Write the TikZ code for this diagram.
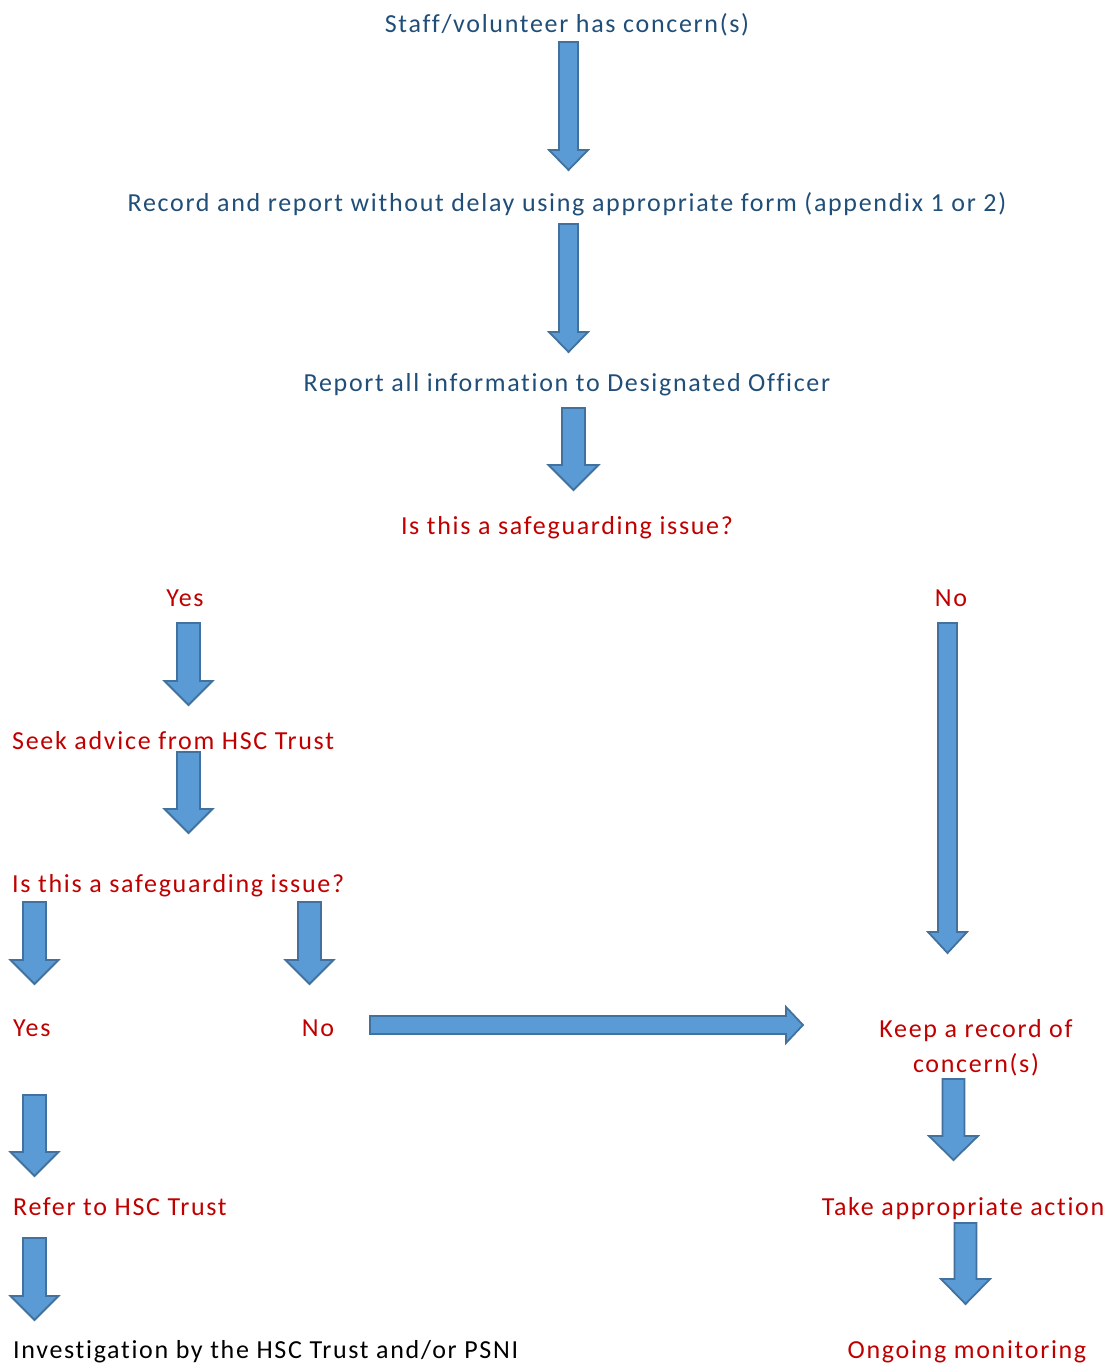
\documentclass[tikz,border=0pt]{standalone}
\usepackage{fontspec}
\setmainfont[LetterSpace=6.5, Ligatures=NoCommon]{Carlito}
\definecolor{txtblue}{HTML}{1F4E79}
\definecolor{txtred}{HTML}{C00000}
\definecolor{arrfill}{HTML}{5B9BD5}
\definecolor{arrline}{HTML}{41719C}
\tikzset{
  lbl/.style={inner sep=0pt, anchor=base, font=\fontsize{26}{30}\selectfont},
  bluelbl/.style={lbl, text=txtblue},
  redlbl/.style={lbl, text=txtred},
  blacklbl/.style={lbl, text=black},
  barrow/.style={fill=arrfill, draw=arrline, line width=1.8pt, line join=miter},
}
% down arrow: x, top, tip, half shaft, half head, head length
\newcommand\darrow[6]{%
  \draw[barrow] ({#1-#4},#2) -- ({#1+#4},#2) -- ({#1+#4},{#3-#6}) -- ({#1+#5},{#3-#6})
    -- (#1,#3) -- ({#1-#5},{#3-#6}) -- ({#1-#4},{#3-#6}) -- cycle;}
% right arrow: y, left, tip, half shaft, half head, head length
\newcommand\rarrow[6]{%
  \draw[barrow] (#2,{#1-#4}) -- (#2,{#1+#4}) -- ({#3-#6},{#1+#4}) -- ({#3-#6},{#1+#5})
    -- (#3,#1) -- ({#3-#6},{#1-#5}) -- ({#3-#6},{#1-#4}) -- cycle;}
\begin{document}
\begin{tikzpicture}[x=1pt,y=-1pt]
\useasboundingbox (0,0) rectangle (1112,1365);
% texts
\node[bluelbl] (t1) at (567,32) {Staff/volunteer has concern(s)};
\node[bluelbl] (t2) at (567,211) {Record and report without delay using appropriate form (appendix 1 or 2)};
\node[bluelbl] (t3) at (567,391) {Report all information to Designated Officer};
\node[redlbl] (q1) at (567,534) {Is this a safeguarding issue?};
\node[redlbl] (y1) at (185,606) {Yes};
\node[redlbl] (n1) at (951,606) {No};
\node[redlbl, anchor=base west] (s1) at (12,749) {Seek advice from HSC Trust};
\node[redlbl, anchor=base west] (q2) at (12,892) {Is this a safeguarding issue?};
\node[redlbl, anchor=base west] (y2) at (13,1036) {Yes};
\node[redlbl] (n2) at (318,1036) {No};
\node[redlbl, align=center, anchor=north] (k1) at (976,1019) {Keep a record of\\[5pt]concern(s)};
\node[redlbl, anchor=base west] (r1) at (13,1215) {Refer to HSC Trust};
\node[redlbl] (a1) at (963,1215) {Take appropriate action};
\node[blacklbl, anchor=base west] (i1) at (13,1358) {Investigation by the HSC Trust and/or PSNI};
\node[redlbl] (o1) at (967,1358) {Ongoing monitoring};
% arrows
\darrow{568.5}{42}{170}{9.5}{19.5}{20}
\darrow{568.5}{224}{352}{9.5}{19.5}{20}
\darrow{573.5}{408}{490}{11.5}{25}{25}
\darrow{188.5}{623}{705}{11.5}{24}{24}
\darrow{188.5}{752}{833}{11.5}{24}{24}
\darrow{34.5}{902}{984}{11.5}{24}{24}
\darrow{309.5}{902}{984}{11.5}{24}{24}
\darrow{947.5}{623}{953}{9.5}{19.5}{21}
\rarrow{1025}{370}{803}{9}{18}{17}
\darrow{34.5}{1095}{1176}{11.5}{24}{24}
\darrow{34.5}{1238}{1320}{11.5}{24}{24}
\darrow{953.5}{1079}{1160}{11}{24.5}{24}
\darrow{965.5}{1223}{1304}{11}{24.5}{25}
\end{tikzpicture}
\end{document}
